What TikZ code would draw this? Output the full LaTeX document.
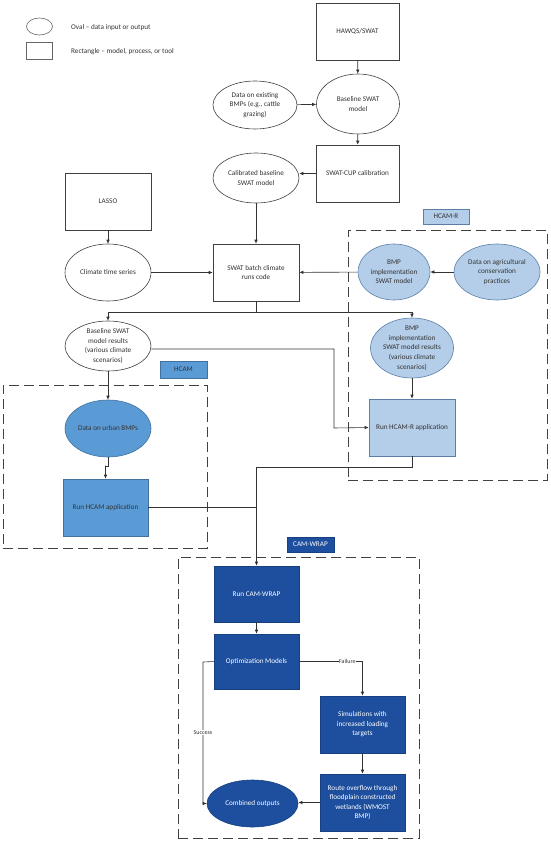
\documentclass[tikz,border=0pt]{standalone}
\usepackage{fontspec}
\setmainfont{Carlito}
\usetikzlibrary{shapes.geometric,arrows.meta,calc}
\definecolor{lblue}{HTML}{B4CDE8}
\definecolor{lblueedge}{HTML}{5A7FA8}
\definecolor{mblue}{HTML}{5B9BD5}
\definecolor{mblueedge}{HTML}{41719C}
\definecolor{dblue}{HTML}{1D4F9E}
\definecolor{dblueedge}{HTML}{16407F}
\definecolor{txt}{HTML}{333333}
\begin{document}
\begin{tikzpicture}[x=1pt,y=-1pt,
  every node/.style={font=\fontsize{7.2}{9.6}\selectfont,text=txt,align=center,inner sep=1pt},
  oval/.style={ellipse,draw=black!75,line width=0.6pt,fill=white,inner xsep=-12pt,inner ysep=-8pt},
  box/.style={rectangle,draw=black!75,line width=0.6pt,fill=white},
  lb/.style={fill=lblue,draw=lblueedge},
  mb/.style={fill=mblue,draw=mblueedge},
  db/.style={fill=dblue,draw=dblueedge,text=white},
  arr/.style={draw=black!80,line width=0.6pt,-{Latex[length=4pt,width=3.5pt]}},
  ln/.style={draw=black!80,line width=0.6pt},
  grp/.style={draw=black!75,line width=1pt,dash pattern=on 10pt off 5pt},
  lbl/.style={fill=white,inner sep=0.5pt,font=\fontsize{6}{7}\selectfont}
]
\useasboundingbox (0,0) rectangle (550,842);

% legend
\node[oval,draw=black!60,minimum width=26pt,minimum height=17pt] (lgo) at (39.5,26.5) {};
\node[box,draw=black!60,minimum width=26pt,minimum height=17pt] (lgr) at (39,50.5) {};
\node[anchor=west] (lgot) at (70,28) {Oval -- data input or output};
\node[anchor=west] (lgrt) at (70,52) {Rectangle -- model, process, or tool};

% group boxes
\node[grp,minimum width=199pt,minimum height=250pt] (hcamrbox) at (447.5,355) {};
\node[grp,minimum width=204pt,minimum height=163pt] (hcambox) at (105,466.5) {};
\node[grp,minimum width=241pt,minimum height=281pt] (cambox) at (298.5,697.5) {};

% top chain
\node[box,minimum width=83pt,minimum height=57pt] (hawqs) at (357.5,31.5) {HAWQS/SWAT};
\node[oval,minimum width=83pt,minimum height=60pt] (bswat) at (358,104) {Baseline SWAT\\model};
\node[oval,minimum width=84pt,minimum height=48pt] (exist) at (255,105) {Data on existing\\BMPs (e.g., cattle\\grazing)};
\node[box,minimum width=83pt,minimum height=57pt] (swatcup) at (357.5,173.5) {SWAT-CUP calibration};
\node[oval,minimum width=86pt,minimum height=50pt] (calib) at (256,178) {Calibrated baseline\\SWAT model};
\node[box,minimum width=86pt,minimum height=57pt] (lasso) at (108,201.5) {LASSO};
\node[oval,minimum width=86pt,minimum height=57pt] (climate) at (108,272.5) {Climate time series};
\node[box,minimum width=86pt,minimum height=57pt] (batch) at (256,272.5) {SWAT batch climate\\runs code};

% HCAM-R
\node[box,lb,minimum width=46pt,minimum height=15pt] (hcamrlbl) at (446,216.5) {HCAM-R};
\node[oval,lb,minimum width=72pt,minimum height=56pt] (bmpimpl) at (394,272) {BMP\\implementation\\SWAT model};
\node[oval,lb,minimum width=86pt,minimum height=56pt] (agdata) at (497,272) {Data on agricultural\\conservation\\practices};
\node[oval,minimum width=86pt,minimum height=50pt] (bres) at (108,346) {Baseline SWAT\\model results\\(various climate\\scenarios)};
\node[oval,lb,minimum width=83pt,minimum height=60pt] (bmpres) at (412,348) {BMP\\implementation\\SWAT model results\\(various climate\\scenarios)};
\node[box,lb,minimum width=86pt,minimum height=57pt] (hcamr) at (412,427.5) {Run HCAM-R application};

% HCAM
\node[box,mb,minimum width=47pt,minimum height=17pt] (hcamlbl) at (183.5,369.5) {HCAM};
\node[oval,mb,minimum width=86pt,minimum height=57pt] (urban) at (108,428.5) {Data on urban BMPs};
\node[box,mb,minimum width=85pt,minimum height=57pt] (hcam) at (105.5,507.5) {Run HCAM application};

% CAM-WRAP
\node[box,db,minimum width=47pt,minimum height=15pt] (camlbl) at (310.5,544.5) {CAM-WRAP};
\node[box,db,minimum width=85pt,minimum height=56pt] (runcam) at (256.5,594) {Run CAM-WRAP};
\node[box,db,minimum width=85pt,minimum height=55pt] (opt) at (256.5,661.5) {Optimization Models};
\node[box,db,minimum width=85pt,minimum height=57pt] (sim) at (362.5,724.5) {Simulations with\\increased loading\\targets};
\node[box,db,minimum width=85pt,minimum height=57pt] (route) at (362.5,802.5) {Route overflow through\\floodplain constructed\\wetlands (WMOST\\BMP)};
\node[oval,db,minimum width=91pt,minimum height=47pt] (comb) at (252.5,803.5) {Combined outputs};

% connectors
\draw[arr] (hawqs) -- (bswat);
\draw[arr] (exist) -- (bswat);
\draw[arr] (bswat) -- (swatcup);
\draw[arr] (swatcup.west) -- (calib.east |- swatcup.west);
\draw[arr] (calib) -- (batch);
\draw[arr] (lasso) -- (climate);
\draw[arr] (climate) -- (batch);
\draw[arr] (agdata) -- (bmpimpl);
\draw[arr] (bmpimpl) -- (batch);
\draw[ln] (batch.south) -- ++(0,11) coordinate (split);
\draw[arr] (split) -| (bres.north);
\draw[arr] (split) -| (bmpres.north);
\draw[arr] (bmpres) -- (hcamr);
\coordinate (j1) at (334,428);
\draw[arr] ($(bres.east)+(0,3)$) -| (j1) -- (hcamr.west);
\draw[arr] (bres) -- (urban);
\draw[arr] (urban.south) -- ++(0,9) -| ($(hcam.north)+(0,-13)$) -- (hcam.north);
\draw[arr] (hcamr.south) -- ++(0,11) -| (runcam.north);
\draw[ln] (hcam.east) -- (hcam.east -| runcam.north);
\draw[arr] (runcam) -- (opt);
\draw[arr] (opt.east) -| node[lbl,pos=0.38] (flab) {Failure} (sim.north);
\draw[arr] (sim) -- (route);
\draw[arr] (route.west) -- (comb.east |- route.west);
\coordinate (j2) at (203,662);
\draw[arr] (opt.west) -- (j2) |- node[lbl,pos=0.25] (slab) {Success} (comb.west);
\end{tikzpicture}
\end{document}
